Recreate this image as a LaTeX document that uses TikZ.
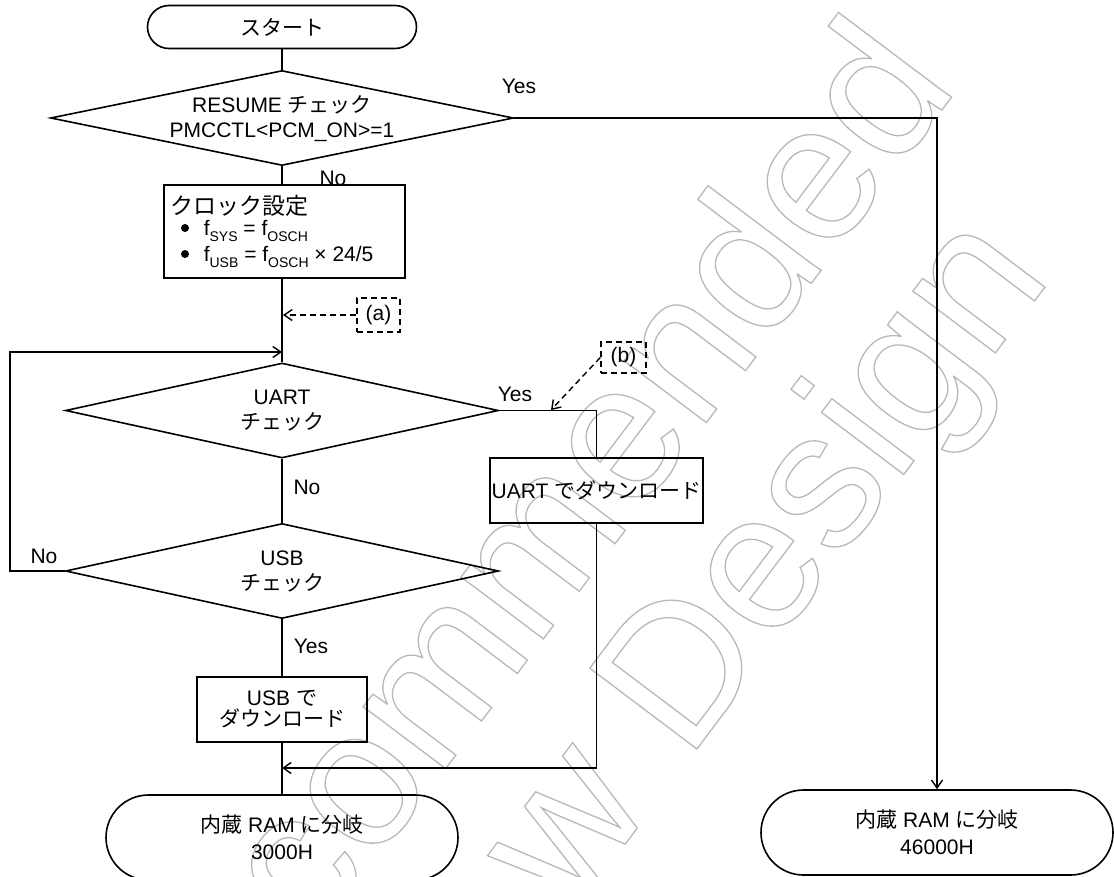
\documentclass[tikz,border=0pt]{standalone}
\usepackage{fontspec}
\setmainfont{Liberation Sans}
\newfontfamily\jp{Noto Sans CJK JP}
\usetikzlibrary{shapes.geometric,shapes.misc,arrows.meta}
\newcommand\J[1]{{\jp #1}}
\newcommand\sbs[1]{\raisebox{-0.28em}{\fontsize{14}{14}\selectfont #1}}
\newcommand\outl[1]{\special{pdf:literal 1 Tr 1.3 w}#1\special{pdf:literal 0 Tr}}
\begin{document}
\begin{tikzpicture}[x=1pt,y=-1pt,line width=1.6pt,
  every node/.style={font=\fontsize{21}{25}\selectfont, inner sep=0pt},
  term/.style={draw, rounded rectangle, minimum width=#1, minimum height=85pt, align=center, font=\fontsize{21}{27}\selectfont},
  dia/.style={draw, diamond, minimum width=#1, minimum height=95pt},
  box/.style={draw, rectangle},
  note/.style={draw, dashed, dash pattern=on 6pt off 4pt, line width=1.4pt},
  dot/.style={circle, fill, minimum size=8pt},
  wm/.style={rotate=53, anchor=base west, text=black!28, font=\fontsize{195}{195}\selectfont},
  >={Straight Barb[length=8pt,width=11pt,line width=1.4pt]},
  dline/.style={dashed, dash pattern=on 6pt off 4pt, line width=1.4pt}]
\useasboundingbox (0,0) rectangle (1114,876);

% watermark
\node[wm] (wm1) at (-52,1429) {\outl{Not Recommended}};
\node[wm] (wm2) at (250,1342) {\outl{for New Design}};

% nodes
\node[draw, rounded rectangle, minimum width=269pt, minimum height=43pt] (start) at (282,27) {\J{スタート}};
\node[dia=463pt] (resume) at (282,118) {};
\node[align=center] (resumet) at (282,119) {RESUME \J{チェック}\\PMCCTL<PCM\_ON>=1};
\node[box, minimum width=241pt, minimum height=93pt] (clk) at (284.5,231.5) {};
\node[anchor=base west, font=\fontsize{23}{23}\selectfont\jp] (clkt) at (170,214) {クロック設定};
\node[dot] (bu1) at (185,228) {};
\node[anchor=base west] (f1) at (203,235.5) {f\sbs{SYS} = f\sbs{OSCH}};
\node[dot] (bu2) at (185,254) {};
\node[anchor=base west] (f2) at (203,261.5) {f\sbs{USB} = f\sbs{OSCH} × 24/5};

\node[note, minimum width=43pt, minimum height=34pt] (la) at (378.5,315) {(a)};
\node[note, minimum width=45pt, minimum height=31pt] (lb) at (623.5,357.5) {(b)};

\node[dia=433pt] (uart) at (282,410.5) {};
\node[align=center] (uartt) at (282,411) {UART\\\J{チェック}};
\node[box, minimum width=213pt, minimum height=65pt] (ubox) at (596.5,490.5) {UART \J{でダウンロード}};

\node[dia=433pt] (usb) at (282,571) {};
\node[align=center] (usbt) at (282,571.5) {USB\\\J{チェック}};
\node[box, minimum width=170pt, minimum height=65pt, align=center, font=\fontsize{21}{21}\selectfont] (ubx) at (282,709.5) {USB \J{で}\\\J{ダウンロード}};

\node[term=352pt] (end1) at (282,837.5) {\J{内蔵} RAM \J{に分岐}\\3000H};
\node[term=352pt] (end2) at (937,832.5) {\J{内蔵} RAM \J{に分岐}\\46000H};

% labels
\node (y1) at (519,86) {Yes};
\node (n1) at (333,178) {No};
\node (y2) at (515,394) {Yes};
\node (n2) at (307,487) {No};
\node (n3) at (44,556) {No};
\node (y3) at (311,646) {Yes};

% coordinates
\coordinate (pa) at (283,315);
\coordinate (pb) at (551,410);
\coordinate (loopin) at (282,352);
\coordinate (loopx) at (10,571);
\coordinate (join) at (282,768);

% connectors
\draw (start.south) -- (resume.north);
\draw (resume.south) -- (resume.south |- clk.north);
\draw (clk.south -| uart.north) -- (uart.north);
\draw[->] (usb.west) -- (loopx) |- (loopin);
\draw (uart.south) -- (usb.north);
\draw (uart.east) -| (ubox.north);
\draw[->] (ubox.south) |- (join);
\draw (usb.south) -- (ubx.north);
\draw (ubx.south) -- (end1.north);
\draw[->] (resume.east) -| (end2.north);
\draw[->, dline] (la.west) -- (pa);
\draw[->, dline] (lb.west) -- (pb);
\end{tikzpicture}
\end{document}
